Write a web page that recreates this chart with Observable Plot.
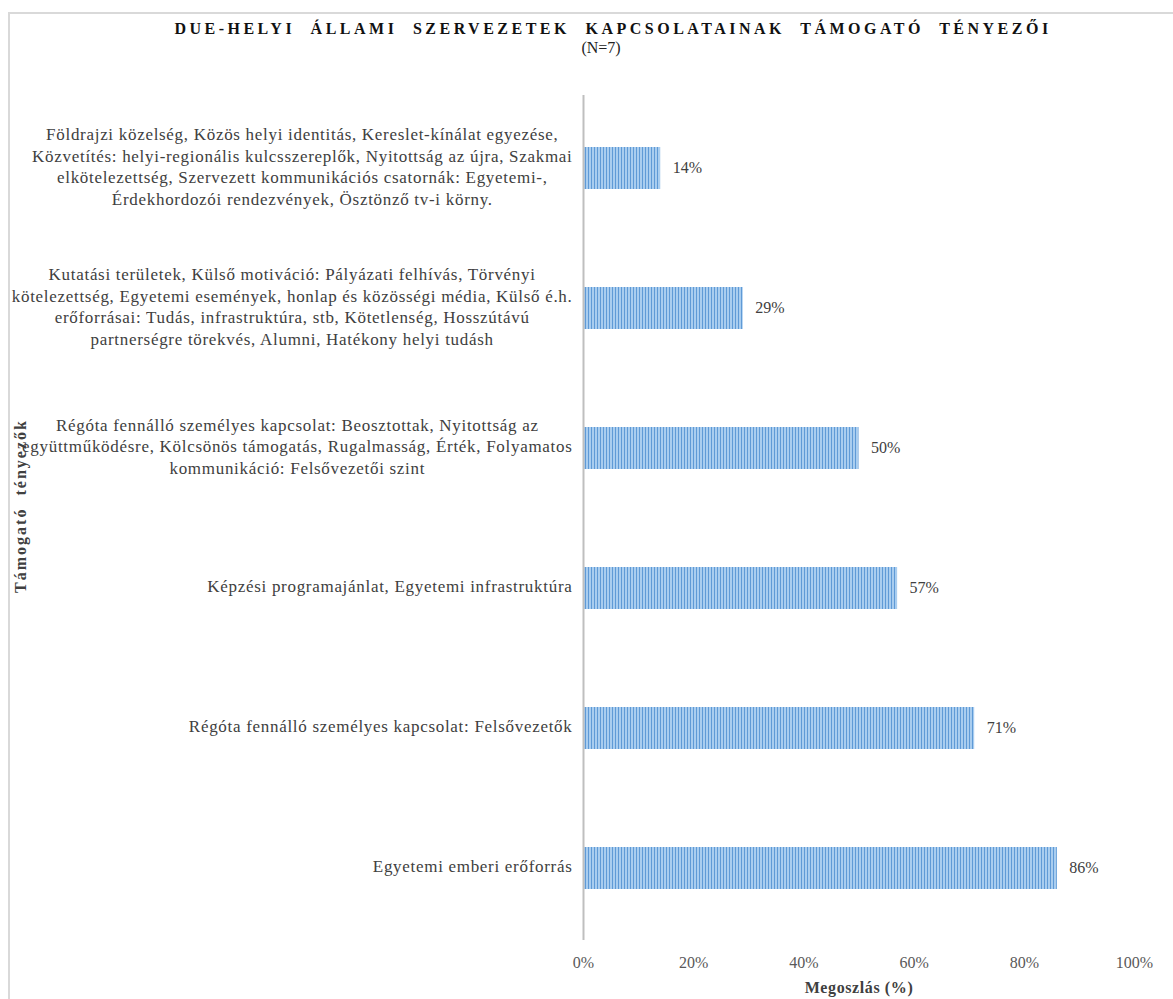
<!DOCTYPE html>
<html>
<head>
<meta charset="utf-8">
<script src="https://cdn.jsdelivr.net/npm/d3@7"></script>
<script src="https://cdn.jsdelivr.net/npm/@observablehq/plot@0.6"></script>
<style>
  html, body { margin: 0; padding: 0; background: #fff; }
  #wrap { position: relative; width: 1173px; height: 999px; overflow: hidden; font-family: "Liberation Serif", "Times New Roman", serif; }
  #frame { position: absolute; left: 8px; top: 12px; width: 1200px; height: 1000px; border-left: 2px solid #d9d9d9; border-top: 2px solid #d9d9d9; }
  #title { position: absolute; left: 0; width: 1226px; top: 20px; text-align: center; font-family: "Liberation Serif", serif; font-weight: bold; font-size: 16px; letter-spacing: 3.5px; word-spacing: 8px; color: #111; white-space: nowrap; }
  #subtitle { position: absolute; left: 0; width: 1202px; top: 39px; text-align: center; font-family: "Liberation Serif", serif; font-size: 16px; color: #222; }
  #chart { position: absolute; left: 0; top: 70px; }
</style>
</head>
<body>
<div id="wrap">
  <div id="frame"></div>
  <div id="title">DUE-HELYI ÁLLAMI SZERVEZETEK KAPCSOLATAINAK TÁMOGATÓ TÉNYEZŐI</div>
  <div id="subtitle">(N=7)</div>
  <div id="chart"></div>
</div>
<script>
const categories = [
  "Földrajzi közelség, Közös helyi identitás, Kereslet-kínálat egyezése,\nKözvetítés: helyi-regionális kulcsszereplők, Nyitottság az újra, Szakmai\nelkötelezettség, Szervezett kommunikációs csatornák: Egyetemi-,\nÉrdekhordozói rendezvények, Ösztönző tv-i körny.",
  "Kutatási területek, Külső motiváció: Pályázati felhívás, Törvényi\nkötelezettség, Egyetemi események, honlap és közösségi média, Külső é.h.\nerőforrásai: Tudás, infrastruktúra, stb, Kötetlenség, Hosszútávú\npartnerségre törekvés, Alumni, Hatékony helyi tudásh",
  "Régóta fennálló személyes kapcsolat: Beosztottak, Nyitottság az\negyüttműködésre, Kölcsönös támogatás, Rugalmasság, Érték, Folyamatos\nkommunikáció: Felsővezetői szint",
  "Képzési programajánlat, Egyetemi infrastruktúra",
  "Régóta fennálló személyes kapcsolat: Felsővezetők",
  "Egyetemi emberi erőforrás"
];
const values = [14, 29, 50, 57, 71, 86];
const xTicks = [0, 20, 40, 60, 80, 100];
const xTitle = "Megoszlás (%)";
const yTitle = "Támogató tényezők";

const data = categories.map((c, i) => ({cat: c, value: values[i]}));

const FONT = '"Liberation Serif", "Times New Roman", serif';
const LABEL_SIZE = 17;
const LABEL_LS = 0.7;
const ctx = document.createElement("canvas").getContext("2d");
ctx.font = `${LABEL_SIZE}px "Liberation Serif"`;
function blockWidth(s) {
  return Math.max(...s.split("\n").map(l => ctx.measureText(l).width + l.length * LABEL_LS));
}

const labelMarks = data.map(d => Plot.text([d], {
  y: "cat", text: "cat", frameAnchor: "left", textAnchor: "middle",
  dx: -11 - blockWidth(d.cat) / 2, dy: -3, lineHeight: 1.265, fontSize: LABEL_SIZE, fill: "#404040",
  className: "cat-label"
}));

const chart = Plot.plot({
  width: 1173, height: 929,
  marginLeft: 583, marginRight: 39, marginTop: 25, marginBottom: 59,
  style: { fontFamily: FONT, fontSize: "16px", color: "#595959", background: "transparent" },
  x: { domain: [0, 100] },
  y: { domain: categories, paddingInner: 0.7, paddingOuter: 0.35, axis: null },
  marks: [
    Plot.barX(data, { x: "value", y: "cat", fill: "url(#stripes)" }),
    Plot.ruleX([0], { stroke: "#bfbfbf", strokeWidth: 2 }),
    Plot.text(data, { x: "value", y: "cat", text: d => d.value + "%", textAnchor: "start", dx: 12, dy: -1, fontSize: 16, fill: "#404040" }),
    ...labelMarks,
    Plot.axisX({ ticks: xTicks, tickSize: 0, tickPadding: 16, tickFormat: d => d + "%", label: null, fontSize: 16, fill: "#595959" }),
    Plot.text([xTitle], { frameAnchor: "bottom", dy: 52, fontWeight: "bold", fontSize: 16, fill: "#404040", className: "x-title" }),
    Plot.text([yTitle], { frameAnchor: "left", textAnchor: "middle", rotate: -90, dx: -563, dy: -12, fontWeight: "bold", fontSize: 16, fill: "#404040", className: "y-title" })
  ]
});

const svg = d3.select(chart);
svg.selectAll(".cat-label text").style("letter-spacing", LABEL_LS + "px");
svg.selectAll(".x-title text").style("letter-spacing", "0.6px");
svg.selectAll(".y-title text").style("letter-spacing", "2px").style("word-spacing", "6px");
const defs = svg.insert("defs", ":first-child");
const pat = defs.append("pattern").attr("id", "stripes").attr("patternUnits", "userSpaceOnUse").attr("width", 3).attr("height", 10);
pat.append("rect").attr("width", 3).attr("height", 10).attr("fill", "#a9cdef");
pat.append("rect").attr("width", 1).attr("height", 10).attr("fill", "#5f9ad6");

document.getElementById("chart").appendChild(chart);
</script>
</body>
</html>
